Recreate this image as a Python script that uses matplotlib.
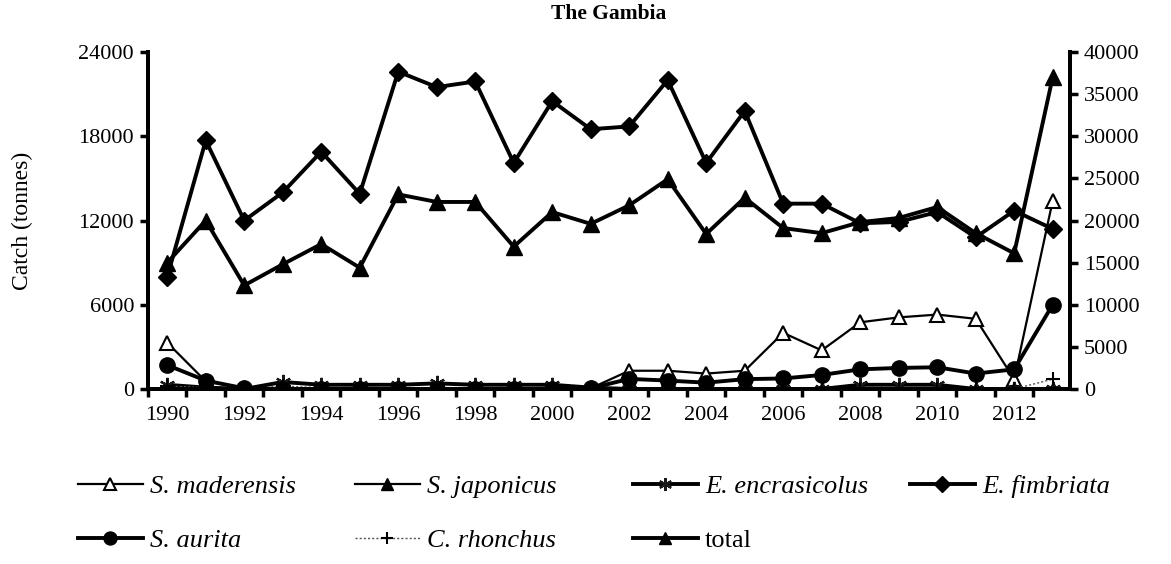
import matplotlib
matplotlib.use("Agg")
import matplotlib.pyplot as plt
import numpy as np

years = list(range(1990, 2014))
year_labels = [str(y) for y in range(1990, 2013, 2)]

s_maderensis = [3300, 550, 50, 0, 0, 0, 0, 0, 0, 0, 0, 50, 1300, 1300, 1100, 1300,
                4000, 2750, 4750, 5100, 5300, 5000, 700, 13400]
s_japonicus = [100, 150, 0, 0, 0, 0, 0, 0, 0, 0, 0, 0, 0, 0, 0, 0,
               0, 0, 0, 0, 0, 0, 0, 0]
e_encrasicolus = [300, 100, 0, 500, 300, 300, 300, 400, 300, 300, 300, 100, 0, 0, 0, 0,
                  0, 0, 300, 300, 300, 0, 0, 0]
e_fimbriata = [8000, 17700, 12000, 14000, 16900, 13900, 22600, 21500, 21900, 16100, 20500, 18500,
               18700, 22000, 16100, 19800, 13200, 13200, 11800, 11900, 12600, 10800, 12700, 11400]
s_aurita = [1700, 600, 50, 0, 0, 0, 0, 0, 0, 0, 0, 50, 720, 600, 450, 700,
            750, 1000, 1400, 1500, 1550, 1100, 1400, 6000]
c_rhonchus = [200, 100, 0, 200, 100, 100, 100, 100, 100, 100, 100, 0, 0, 0, 0, 0,
              0, 0, 0, 0, 0, 0, 0, 700]
total = [15000, 20000, 12300, 14800, 17200, 14400, 23100, 22200, 22200, 16900, 21000, 19600,
         21800, 24900, 18400, 22700, 19100, 18500, 19800, 20300, 21600, 18500, 16100, 37000]

plt.rcParams["font.family"] = ["Liberation Serif", "DejaVu Serif"]
FS = 16
LEG_FS = 19

fig = plt.figure(figsize=(11.71, 5.64), dpi=100)
ax = fig.add_axes([148 / 1171, 1 - 389 / 564, 922 / 1171, 337 / 564])
ax2 = ax.twinx()

x = np.arange(len(years))
thin = dict(color="black", lw=1.6)
thick = dict(color="black", lw=2.8)

h_mad, = ax.plot(x, s_maderensis, marker="^", ms=10, mfc="white", mec="black", mew=1.5,
                 label="S. maderensis", **thin)
h_jap, = ax.plot(x, s_japonicus, marker="^", ms=10, mfc="black", mec="black",
                 label="S. japonicus", **thin)
h_enc, = ax.plot(x, e_encrasicolus, marker=(6, 2, 0), ms=11, mec="#1a1a1a", mew=1.6,
                 label="E. encrasicolus", **thick)
h_rho, = ax.plot(x, c_rhonchus, color="#555555", lw=1.0, ls=(0, (1.5, 1.5)), marker="+",
                 ms=10, mec="black", mew=1.5, label="C. rhonchus")
h_aur, = ax.plot(x, s_aurita, marker="o", ms=11, mfc="black", mec="black",
                 label="S. aurita", **thick)
h_fim, = ax.plot(x, e_fimbriata, marker="D", ms=9, mfc="black", mec="black",
                 label="E. fimbriata", **thick)
h_tot, = ax2.plot(x, total, marker="^", ms=11, mfc="black", mec="black",
                  label="total", **thick)

ax.set_xlim(-0.5, 23.45)
ax.set_ylim(0, 24000)
ax2.set_ylim(0, 40000)
ax.set_yticks(np.arange(0, 24001, 6000))
ax2.set_yticks(np.arange(0, 40001, 5000))

ax.set_xticks(np.arange(0, 23, 2))
ax.set_xticklabels(year_labels)
ax.set_xticks(np.arange(-0.5, 23.5, 1), minor=True)
ax.tick_params(axis="x", which="major", length=0, pad=12, labelsize=FS)
ax.tick_params(axis="x", which="minor", length=6, width=2.5, direction="out")
ax.tick_params(axis="y", length=6, width=2.5, labelsize=FS, pad=4)
ax2.tick_params(axis="y", length=6, width=2.5, labelsize=FS, pad=4)

for a in (ax, ax2):
    a.spines["top"].set_visible(False)
    for s in ("left", "right", "bottom"):
        a.spines[s].set_linewidth(2.8)

ax.set_ylabel("Catch (tonnes)", fontsize=17)
ax.yaxis.set_label_coords((33 - 148) / 922, 0.5)
fig.text(609 / 1171, 1 - 14 / 564, "The Gambia", fontsize=15.5, fontweight="bold",
         ha="center", va="center")

columns = [[h_mad, h_aur], [h_jap, h_rho], [h_enc, h_tot], [h_fim]]
col_x = [78, 355, 633, 910]
for handles, cx in zip(columns, col_x):
    leg = fig.legend(handles=handles, loc="upper left",
                     bbox_to_anchor=(cx / 1171, 1 - 475 / 564),
                     frameon=False, fontsize=LEG_FS, handlelength=2.46, handletextpad=0.27,
                     labelspacing=1.14, borderpad=0, borderaxespad=0, markerscale=0.85)
    for t in leg.get_texts():
        if t.get_text() != "total":
            t.set_style("italic")

fig.savefig("out.png", dpi=100)
